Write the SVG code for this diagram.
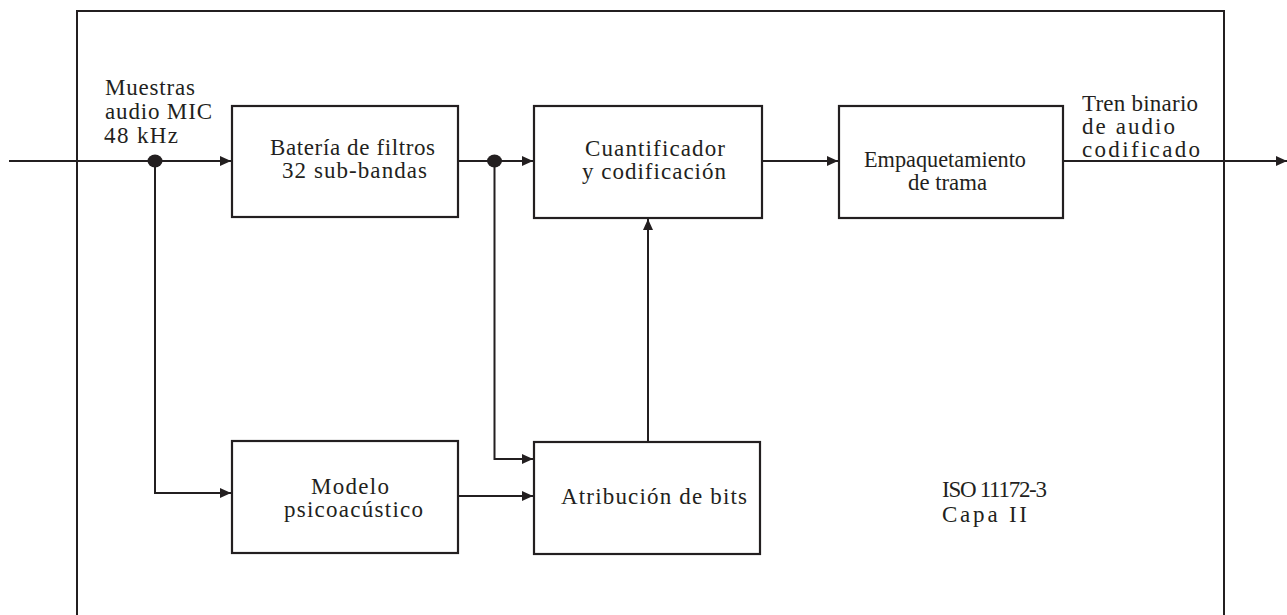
<svg xmlns="http://www.w3.org/2000/svg" width="1287" height="615" viewBox="0 0 1287 615">
<style>
.box{fill:#fff;stroke:#231f20;stroke-width:2.2}
.ln{fill:none;stroke:#231f20;stroke-width:2}
.t{font-family:"Liberation Serif","Times New Roman",serif;font-size:23px;fill:#231f20}
</style>
<defs>
<marker id="ah" markerWidth="11" markerHeight="10" refX="11" refY="5" orient="auto" markerUnits="userSpaceOnUse">
<path d="M0,0 L11,5 L0,10 Z" fill="#231f20"/>
</marker>
</defs>
<rect width="1287" height="615" fill="#fff"/>
<path class="ln" d="M77,615 V11 H1224 V615" stroke-width="2.4"/>
<g id="connectors">
<path class="ln" d="M9,161 H231" marker-end="url(#ah)"/>
<path class="ln" d="M155,161 V493 H231" marker-end="url(#ah)"/>
<path class="ln" d="M458,161 H533" marker-end="url(#ah)"/>
<path class="ln" d="M494.5,161 V459 H533" marker-end="url(#ah)"/>
<path class="ln" d="M762,161 H838" marker-end="url(#ah)"/>
<path class="ln" d="M1063,161 H1287" marker-end="url(#ah)"/>
<path class="ln" d="M458,496 H533" marker-end="url(#ah)"/>
<path class="ln" d="M648,442 V219" marker-end="url(#ah)"/>
<ellipse cx="155" cy="161" rx="7.5" ry="6.5" fill="#231f20"/>
<ellipse cx="494.5" cy="161" rx="7.5" ry="6.5" fill="#231f20"/>
</g>
<g id="label-in">
<text class="t" x="105" y="95" textLength="90" lengthAdjust="spacing">Muestras</text>
<text class="t" x="105" y="119" textLength="107" lengthAdjust="spacing">audio MIC</text>
<text class="t" x="104" y="143" textLength="74" lengthAdjust="spacing">48 kHz</text>
</g>
<g id="label-out">
<text class="t" x="1082" y="111" textLength="116" lengthAdjust="spacing">Tren binario</text>
<text class="t" x="1082" y="134" textLength="93" lengthAdjust="spacing">de audio</text>
<text class="t" x="1082" y="157" textLength="118" lengthAdjust="spacing">codificado</text>
</g>
<g id="bateria">
<rect class="box" x="232" y="106" width="226" height="111"/>
<text class="t" x="270" y="155" textLength="165" lengthAdjust="spacing">Batería de filtros</text>
<text class="t" x="282" y="178" textLength="145" lengthAdjust="spacing">32 sub-bandas</text>
</g>
<g id="cuantificador">
<rect class="box" x="534" y="106" width="228" height="112"/>
<text class="t" x="585" y="156" textLength="140" lengthAdjust="spacing">Cuantificador</text>
<text class="t" x="582" y="179" textLength="144" lengthAdjust="spacing">y codificación</text>
</g>
<g id="empaquetamiento">
<rect class="box" x="839" y="106" width="224" height="112"/>
<text class="t" x="864" y="167" textLength="162" lengthAdjust="spacingAndGlyphs">Empaquetamiento</text>
<text class="t" x="908" y="190" textLength="79" lengthAdjust="spacingAndGlyphs">de trama</text>
</g>
<g id="modelo">
<rect class="box" x="232" y="441" width="226" height="112"/>
<text class="t" x="311" y="494" textLength="78" lengthAdjust="spacing">Modelo</text>
<text class="t" x="284" y="517" textLength="139" lengthAdjust="spacing">psicoacústico</text>
</g>
<g id="atribucion">
<rect class="box" x="534" y="442" width="226" height="112"/>
<text class="t" x="561" y="504" textLength="186" lengthAdjust="spacing">Atribución de bits</text>
</g>
<g id="nota">
<text class="t" x="942" y="497" textLength="105" lengthAdjust="spacing">ISO 11172-3</text>
<text class="t" x="942" y="522" textLength="85" lengthAdjust="spacing">Capa II</text>
</g>
</svg>
